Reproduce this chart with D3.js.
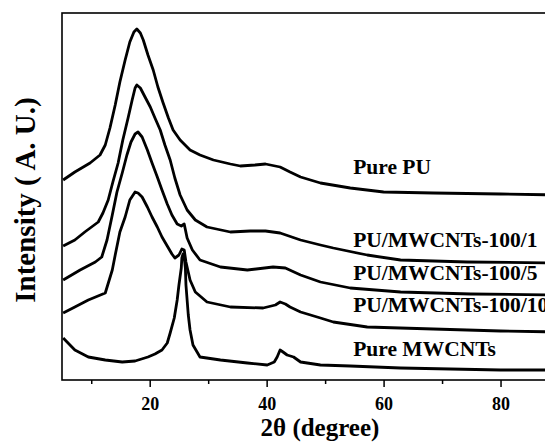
<!DOCTYPE html>
<html><head><meta charset="utf-8">
<script src="https://cdn.jsdelivr.net/npm/d3@7/dist/d3.min.js"></script>
<style>
html,body{margin:0;padding:0;background:#fff;overflow:hidden;}
text{font-family:"Liberation Serif","Times New Roman",serif;font-weight:bold;fill:#000;}
</style></head>
<body><svg id="chart" width="545" height="442"></svg>
<script>
// 2θ (degree), intensity (a.u.)
const purePU = [[5.2,200],[7.2,208],[9.8,217],[11.5,225],[12.4,235],[13.2,252],[14.1,275],[14.9,298],[15.8,320],[16.6,338],[17.3,348],[17.8,351],[18.4,347],[18.9,340],[19.7,325],[20.6,310],[21.4,293],[22.3,277],[23.2,262],[24.0,250],[25.2,240],[26.9,230],[28.6,225],[30.9,220],[33.8,216],[35.5,214],[38.0,215],[39.8,216],[42.3,213],[44.0,208],[45.8,203],[49.2,197],[54.3,192],[60.0,188],[68.5,187],[80.0,186],[90,185]];
const pu100_1 = [[5.2,134],[7.2,140],[8.9,148],[11.2,158],[12.0,167],[12.9,180],[13.7,198],[14.6,217],[15.4,240],[16.3,262],[17.0,280],[17.5,292],[17.8,295],[18.4,292],[19.2,283],[20.1,273],[20.9,262],[21.8,250],[22.6,235],[23.5,220],[24.3,202],[25.2,185],[26.4,170],[27.8,160],[29.8,153],[33.8,148],[37.2,149],[39.8,149],[42.3,147],[45.8,140],[49.2,135],[51.4,132],[57.2,125],[62.9,120],[74.3,118],[90,117]];
const pu100_5 = [[5.2,100],[8.1,110],[10.7,118],[11.8,123],[12.7,140],[13.6,165],[14.4,188],[15.3,207],[16.1,225],[16.8,238],[17.5,246],[18.0,248],[18.7,243],[19.6,230],[20.4,217],[21.3,203],[22.1,190],[23.0,176],[23.8,165],[24.7,156],[25.4,154],[25.9,156],[26.4,142],[27.3,130],[28.6,120],[32.1,113],[36.7,110],[41.1,113],[43.2,112],[45.8,105],[49.2,98],[54.3,92],[62.9,88],[74.9,86],[90,85]];
const pu100_10 = [[5.2,67],[7.2,73],[9.5,80],[12.4,87],[13.6,110],[14.1,125],[14.9,148],[15.8,163],[16.6,180],[17.5,188],[18.0,187],[18.7,183],[19.6,173],[20.4,163],[21.3,153],[22.1,143],[23.0,134],[23.8,126],[24.3,122],[25.0,125],[25.5,131],[25.9,130],[26.2,118],[26.9,100],[27.8,88],[29.8,78],[33.8,73],[39.4,72],[41.5,75],[42.3,78],[43.2,76],[44.0,73],[45.8,68],[49.2,62],[51.4,58],[57.2,53],[68.5,51],[80.0,49],[90,48]];
const pureMWCNTs = [[5.2,42],[7.2,30],[9.5,23],[12.4,20],[15.3,18],[17.5,19],[19.7,23],[20.9,26],[22.1,30],[23.0,37],[23.5,47],[24.2,62],[24.7,80],[25.0,95],[25.4,112],[25.5,122],[25.7,126],[25.9,123],[26.1,112],[26.2,95],[26.6,65],[26.9,50],[27.4,35],[28.6,23],[32.1,20],[36.7,17],[40.1,15],[41.3,18],[41.8,23],[42.3,30],[42.8,28],[43.5,25],[44.6,23],[45.8,18],[49.2,15],[54.3,14],[62.9,12],[71.4,11],[80.0,10],[90,10]];

const seriesData = [purePU, pu100_1, pu100_5, pu100_10, pureMWCNTs];
const seriesNames = ["Pure PU", "PU/MWCNTs-100/1", "PU/MWCNTs-100/5", "PU/MWCNTs-100/10", "Pure MWCNTs"];
const labelPos = [[54.8,206],[54.8,133],[54.8,100],[54.8,68],[54.8,24]];
const majorTicks = [20, 40, 60, 80];
const minorTicks = [10, 30, 50, 70, 90];
const xDomain = [5, 90];
const yDomain = [0, 367];
const xTitle = "2θ (degree)";
const yTitle = "Intensity ( A. U.)";

const svg = d3.select("#chart");
const mLeft = 62, mRight = 559, mTop = 13, mBottom = 380;
const x = d3.scaleLinear().domain(xDomain).range([mLeft, mRight]);
const y = d3.scaleLinear().domain(yDomain).range([mBottom, mTop]);

const line = d3.line().x(d => x(d[0])).y(d => y(d[1])).curve(d3.curveLinear);
svg.append("g").selectAll("path").data(seriesData).join("path")
  .attr("d", line).attr("fill", "none").attr("stroke", "#000")
  .attr("stroke-width", 2.8).attr("stroke-linejoin", "round");

// frame
svg.append("rect").attr("x", mLeft).attr("y", mTop).attr("width", mRight - mLeft).attr("height", mBottom - mTop)
  .attr("fill", "none").attr("stroke", "#000").attr("stroke-width", 1.6);

const gx = svg.append("g").attr("transform", `translate(0,${mBottom})`);
gx.call(d3.axisBottom(x).tickValues(majorTicks).tickSize(7).tickPadding(10).tickFormat(d3.format("d")));
gx.append("g").call(d3.axisBottom(x).tickValues(minorTicks).tickSize(4).tickFormat(""));
gx.selectAll(".domain").remove();
gx.selectAll("line").attr("stroke", "#000").attr("stroke-width", 1.5);
gx.selectAll("text").style("font-size", "18px").style("font-family", "Liberation Serif").style("font-weight", "bold");

svg.append("g").selectAll("text").data(seriesNames).join("text")
  .attr("x", (d, i) => x(labelPos[i][0])).attr("y", (d, i) => y(labelPos[i][1]))
  .style("font-size", "21.5px").text(d => d);

svg.append("text").attr("x", 320).attr("y", 436).attr("text-anchor", "middle")
  .style("font-size", "25px").text(xTitle);
svg.append("text").attr("transform", "translate(35,200) rotate(-90)").attr("text-anchor", "middle")
  .style("font-size", "29px").text(yTitle);
</script></body></html>
